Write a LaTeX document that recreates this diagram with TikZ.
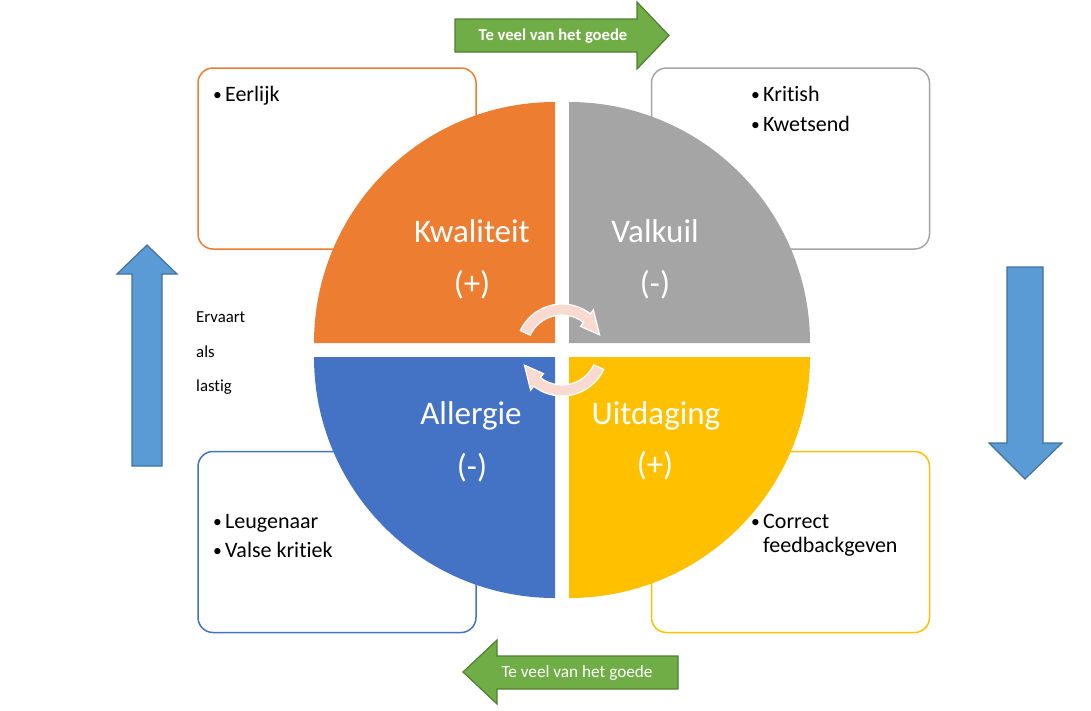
\documentclass[tikz,border=0pt]{standalone}
\usepackage{fontspec}
\setmainfont{Carlito}[Ligatures={NoCommon}]
\usetikzlibrary{calc}

\definecolor{kwal}{HTML}{ED7D31}
\definecolor{valk}{HTML}{A5A5A5}
\definecolor{aller}{HTML}{4472C4}
\definecolor{uitd}{HTML}{FFC000}
\definecolor{greenfill}{HTML}{70AD47}
\definecolor{greenline}{HTML}{507E32}
\definecolor{bluefill}{HTML}{5B9BD5}
\definecolor{blueline}{HTML}{41719C}
\definecolor{cyclefill}{RGB}{248,218,208}

\tikzset{
  infobox/.style={draw, line width=1.5pt, rounded corners=15pt, fill=white,
    minimum width=278pt, minimum height=181pt, inner sep=0pt},
  itemtext/.style={anchor=base west, inner sep=0pt, font=\fontsize{22}{26}\selectfont},
  quadtitle/.style={anchor=base, inner sep=0pt, text=white, font=\fontsize{33}{39}\selectfont},
  quadsign/.style={anchor=center, inner sep=0pt, text=white, font=\fontsize{33}{39}\selectfont},
  sidetext/.style={anchor=base west, inner sep=0pt, font=\fontsize{16.8}{20}\selectfont},
  flowarrow/.style={fill=greenfill, draw=greenline, line width=1.2pt, line join=miter},
  vertarrow/.style={fill=bluefill, draw=blueline, line width=1.2pt, line join=miter},
  cyclearrow/.style={fill=cyclefill, draw=white, line width=1.2pt},
  flowtext/.style={text=white, inner sep=0pt, font=\fontsize{17.2}{20}\selectfont},
}

% bullet followed by a fixed indent
\newcommand{\bul}{\makebox[12pt][l]{\raisebox{0.8pt}{\scalebox{0.8}{\textbullet}}}}

\begin{document}
\begin{tikzpicture}[x=1pt,y=-1pt]
\useasboundingbox (0,0) rectangle (1091,710);

% outlined boxes behind the circle
\node[infobox, draw=kwal]  (boxK) at (337,158.5) {};
\node[infobox, draw=valk]  (boxV) at (790.5,158.5) {};
\node[infobox, draw=aller] (boxA) at (337,542) {};
\node[infobox, draw=uitd]  (boxU) at (790.5,542) {};

% four quadrants of the core-quality circle
\fill[kwal]  (555,343) -- ++(-241,0) arc[start angle=180, end angle=270, radius=241] -- cycle;
\fill[valk]  (569,343) -- ++(0,-241) arc[start angle=270, end angle=360, radius=241] -- cycle;
\fill[aller] (555,357) -- ++(0,241)  arc[start angle=90,  end angle=180, radius=241] -- cycle;
\fill[uitd]  (569,357) -- ++(241,0)  arc[start angle=0,   end angle=90,  radius=241] -- cycle;

% circular arrows in the centre
\foreach \rot in {0,180}{
  \begin{scope}[shift={(562,350)}, rotate=\rot]
    \filldraw[cyclearrow] (-155:46) arc[start angle=-155, end angle=-52, radius=46]
      -- (-52:51) -- (-22:40.5) -- (-52:30) -- (-52:35)
      arc[start angle=-52, end angle=-155, radius=35] -- cycle;
  \end{scope}
}

% green flow arrows
\filldraw[flowarrow] (455,19) -- (637,19) -- (637,2) -- (669,35.5) -- (637,69) -- (637,52) -- (455,52) -- cycle;
\node[flowtext, font=\fontsize{16.6}{20}\selectfont\bfseries] (flowtop) at (553,36) {Te veel van het goede};
\filldraw[flowarrow] (678,656) -- (497,656) -- (497,640) -- (463,672) -- (497,704) -- (497,689) -- (678,689) -- cycle;
\node[flowtext] (flowbottom) at (577,673) {Te veel van het goede};

% blue vertical arrows
\filldraw[vertarrow] (132,466) -- (132,274) -- (117,274) -- (147,245) -- (177,274) -- (162,274) -- (162,466) -- cycle;
\filldraw[vertarrow] (1007,267) -- (1043,267) -- (1043,443) -- (1062,443) -- (1025,479) -- (989,443) -- (1007,443) -- cycle;

% side label
\node[sidetext] (ervaart) at (196,322) {Ervaart};
\node[sidetext] (als)     at (196,357) {als};
\node[sidetext] (lastig)  at (196,391) {lastig};

% quadrant titles
\node[quadtitle] (tK) at (472,242) {Kwaliteit};
\node[quadsign]  (sK) at (472,285) {(+)};
\node[quadtitle] (tV) at (655,242) {Valkuil};
\node[quadsign]  (sV) at (655,285) {(-)};
\node[quadtitle] (tA) at (471,424) {Allergie};
\node[quadsign]  (sA) at (472,468) {(-)};
\node[quadtitle] (tU) at (656,424) {Uitdaging};
\node[quadsign]  (sU) at (655,466) {(+)};

% bullet lists in the boxes
\node[itemtext] (iK1) at (213,101) {\bul Eerlijk};
\node[itemtext] (iV1) at (751,101) {\bul Kritish};
\node[itemtext] (iV2) at (751,131) {\bul Kwetsend};
\node[itemtext] (iA1) at (213,528) {\bul Leugenaar};
\node[itemtext] (iA2) at (213,557) {\bul Valse kritiek};
\node[itemtext] (iU1) at (751,528) {\bul Correct};
\node[itemtext] (iU2) at (763,552) {feedbackgeven};
\end{tikzpicture}
\end{document}
